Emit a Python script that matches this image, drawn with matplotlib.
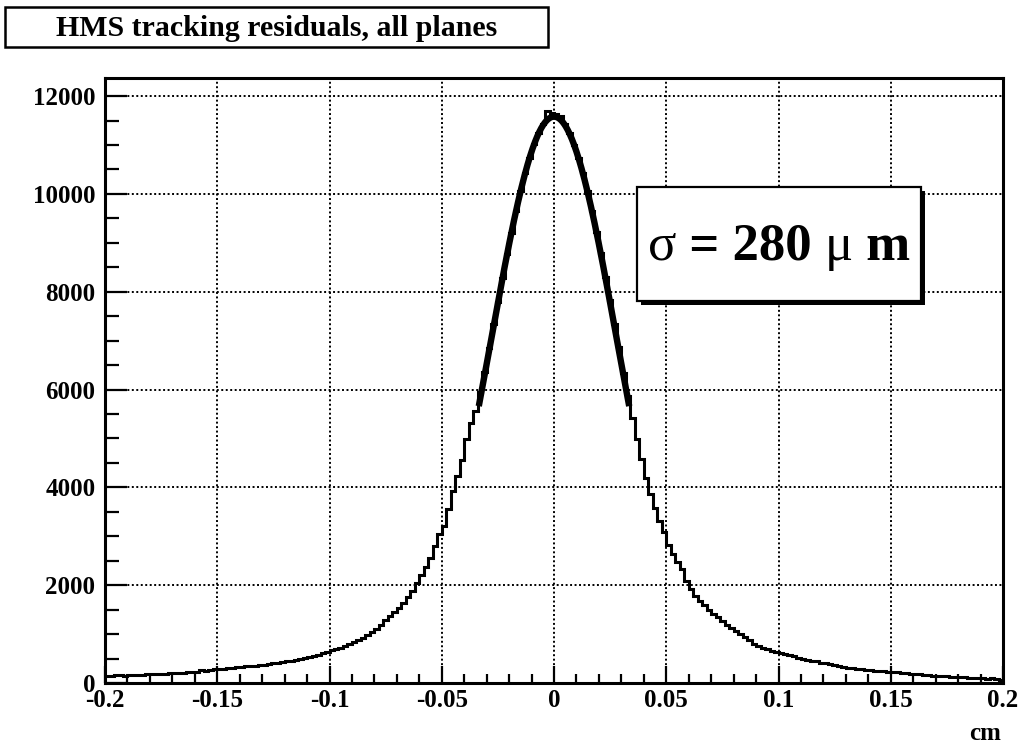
import numpy as np
import matplotlib
matplotlib.use("Agg")
import matplotlib.pyplot as plt
from matplotlib.ticker import MultipleLocator
from matplotlib.patches import Rectangle

# ---------------- data ----------------
bin_low = -0.2
bin_high = 0.2
n_bins = 200

counts_left = [
    140, 150, 160, 155, 150, 165, 160, 170, 165, 175,
    180, 175, 185, 190, 195, 200, 205, 205, 215, 225,
    235, 260, 250, 265, 280, 290, 295, 305, 310, 320,
    330, 340, 345, 355, 365, 375, 390, 400, 415, 430,
    445, 460, 480, 500, 515, 535, 560, 580, 605, 640,
    665, 690, 720, 760, 800, 840, 880, 930, 980, 1040,
    1110, 1180, 1280, 1370, 1450, 1540, 1640, 1760, 1880, 2050,
    2200, 2380, 2560, 2800, 3050, 3200, 3550, 3920, 4230, 4560,
    4990, 5320, 5560, 5950, 6350, 6850, 7340, 7800, 8290, 8780,
    9210, 9650, 10050, 10430, 10730, 11020, 11240, 11420, 11700, 11660,
]
counts_right = [
    11640, 11590, 11430, 11250, 11010, 10740, 10420, 10060, 9660, 9230,
    8790, 8310, 7830, 7350, 6870, 6330, 5870, 5420, 4990, 4580,
    4200, 3870, 3580, 3320, 3080, 2830, 2640, 2470, 2330, 2080,
    1930, 1780, 1680, 1590, 1500, 1420, 1340, 1260, 1190, 1130,
    1070, 1010, 950, 880, 800, 760, 720, 690, 660, 640,
    620, 590, 570, 545, 520, 500, 480, 460, 440, 415,
    400, 385, 365, 350, 335, 315, 300, 290, 280, 270,
    262, 255, 245, 240, 232, 228, 215, 205, 198, 190,
    182, 175, 165, 158, 145, 140, 135, 140, 130, 125,
    120, 118, 110, 105, 100, 98, 92, 95, 75, 55,
]
counts = counts_left + counts_right

fit_amp = 11580
fit_mean = 0.0
fit_sigma = 0.028
fit_range = (-0.0335, 0.0335)

title_text = "HMS tracking residuals, all planes"
sigma_parts = ["σ", " = 280 ", "μ", " m"]
x_unit = "cm"
x_ticks = [-0.2, -0.15, -0.1, -0.05, 0, 0.05, 0.1, 0.15, 0.2]
x_tick_labels = ["-0.2", "-0.15", "-0.1", "-0.05", "0", "0.05", "0.1", "0.15", "0.2"]
y_ticks = [0, 2000, 4000, 6000, 8000, 10000, 12000]
y_tick_labels = ["0", "2000", "4000", "6000", "8000", "10000", "12000"]

# ---------------- figure ----------------
W, H = 1024, 746
fig = plt.figure(figsize=(W / 100, H / 100), dpi=100)
serif = ["Liberation Serif", "DejaVu Serif"]

ax = fig.add_axes([105 / W, 1 - 683 / H, (1003 - 105) / W, (683 - 78) / H])

edges = np.linspace(bin_low, bin_high, n_bins + 1)
ax.stairs(counts, edges, baseline=None, color="black", lw=2.2, zorder=3)

xf = np.linspace(fit_range[0], fit_range[1], 300)
yf = fit_amp * np.exp(-0.5 * ((xf - fit_mean) / fit_sigma) ** 2)
ax.plot(xf, yf, color="black", lw=4.6, solid_capstyle="butt", zorder=4)

ax.set_xlim(bin_low, bin_high)
ax.set_ylim(0, 12370)

ax.set_xticks(x_ticks)
ax.set_xticklabels(x_tick_labels)
ax.set_yticks(y_ticks)
ax.set_yticklabels(y_tick_labels)
ax.xaxis.set_minor_locator(MultipleLocator(0.01))
ax.yaxis.set_minor_locator(MultipleLocator(500))

ax.grid(True, which="major", color="black", linestyle=(0, (1, 1.3)), lw=1.4, zorder=1)

ax.tick_params(axis="x", which="major", direction="in", length=12, width=1.6,
               top=False, pad=4)
ax.tick_params(axis="x", which="minor", direction="in", length=6.5, width=1.6, top=False)
ax.tick_params(axis="y", which="major", direction="in", length=16, width=1.6,
               right=False, pad=7)
ax.tick_params(axis="y", which="minor", direction="in", length=10, width=1.6, right=False)

for lab in ax.get_xticklabels() + ax.get_yticklabels():
    lab.set_fontfamily(serif)
    lab.set_fontweight("bold")
    lab.set_fontsize(18)

for sp in ax.spines.values():
    sp.set_linewidth(2.2)
    sp.set_zorder(5)

# unit label
fig.text(1001 / W, 1 - 733 / H, x_unit, ha="right", va="center",
         fontfamily=serif, fontweight="bold", fontsize=18)

# title box
tb_x0, tb_x1, tb_y0, tb_y1 = 5, 548, 7, 47
fig.patches.append(Rectangle((tb_x0 / W, 1 - tb_y1 / H), (tb_x1 - tb_x0) / W,
                             (tb_y1 - tb_y0) / H, transform=fig.transFigure,
                             fill=False, edgecolor="black", lw=1.8))
fig.text(((tb_x0 + tb_x1) / 2) / W, 1 - 28 / H, title_text, ha="center", va="center",
         fontfamily=serif, fontweight="bold", fontsize=21.5)

# sigma box with shadow
bx0, bx1, by0, by1 = 637, 921, 187, 301
fig.patches.append(Rectangle(((bx0 + 4) / W, 1 - (by1 + 4) / H), (bx1 - bx0) / W,
                             (by1 - by0) / H, transform=fig.transFigure,
                             facecolor="black", edgecolor="black", lw=0, zorder=6))
fig.patches.append(Rectangle((bx0 / W, 1 - by1 / H), (bx1 - bx0) / W,
                             (by1 - by0) / H, transform=fig.transFigure,
                             facecolor="white", edgecolor="black", lw=1.6, zorder=7))

# compose sigma label from pieces (greek letters in regular weight)
fig.canvas.draw()
renderer = fig.canvas.get_renderer()
weights = ["normal", "bold", "normal", "bold"]
pieces = []
for txt, wgt in zip(sigma_parts, weights):
    t = fig.text(0, 1 - 247 / H, txt, ha="left", va="center", fontfamily=serif,
                 fontweight=wgt, fontsize=38, zorder=8)
    pieces.append(t)
widths = [p.get_window_extent(renderer).width for p in pieces]
total = sum(widths)
xstart = (bx0 + bx1) / 2 - total / 2
for p, w in zip(pieces, widths):
    p.set_x(xstart / W)
    xstart += w

fig.savefig("out.png", dpi=100)
